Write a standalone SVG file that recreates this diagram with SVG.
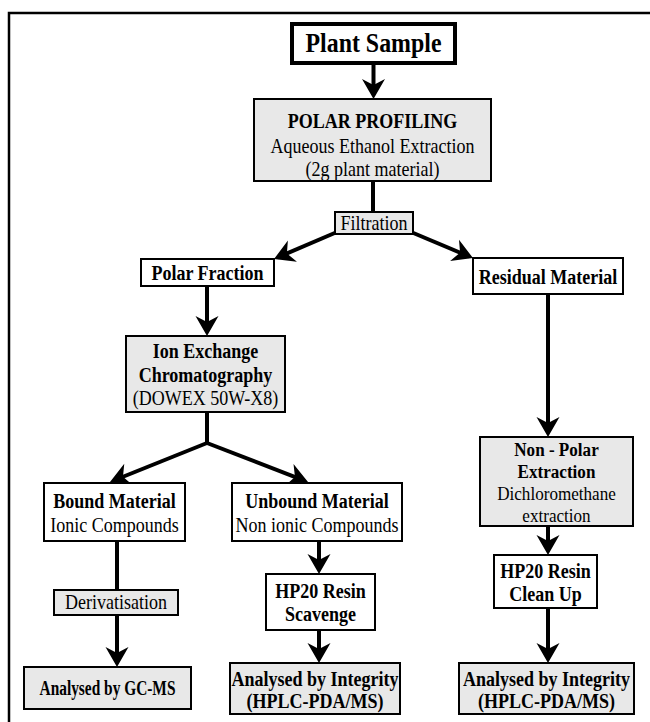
<svg xmlns="http://www.w3.org/2000/svg" width="650" height="722" viewBox="0 0 650 722">
<style>
text{font-family:"Liberation Serif","Times New Roman",serif;font-size:20px;fill:#000;text-anchor:middle;transform:scaleX(0.9);transform-box:fill-box;transform-origin:center}
.b{font-weight:bold}
.s{font-size:19px}
.w{fill:#fff;stroke:#000;stroke-width:2}
.g{fill:#e8e8e8;stroke:#000;stroke-width:2}
.c{fill:none;stroke:#000;stroke-width:4}
</style>
<defs>
<marker id="ah" markerUnits="userSpaceOnUse" markerWidth="30" markerHeight="30" viewBox="-20 -15 30 30" refX="0" refY="0" orient="auto">
<path d="M4,0 L-16,-11.5 L-10,0 L-16,11.5 Z" fill="#000"/>
</marker>
</defs>
<path d="M9,722 V13 H650" fill="none" stroke="#000" stroke-width="2.5"/>
<g id="connectors">
<path class="c" d="M373.5,63 V95" marker-end="url(#ah)"/>
<path class="c" d="M373,181 V212"/>
<path class="c" d="M337,232 L277.7,257.4" marker-end="url(#ah)"/>
<path class="c" d="M411,232 L469.3,256.5" marker-end="url(#ah)"/>
<path class="c" d="M207,286 V332" marker-end="url(#ah)"/>
<path class="c" d="M548,294 V433" marker-end="url(#ah)"/>
<path class="c" d="M207,412 V443"/>
<path class="c" d="M207,443 L113.7,480.5" marker-end="url(#ah)"/>
<path class="c" d="M207,443 L304.3,480.6" marker-end="url(#ah)"/>
<path class="c" d="M117,541 V590"/>
<path class="c" d="M117,615 V663" marker-end="url(#ah)"/>
<path class="c" d="M319,541 V570" marker-end="url(#ah)"/>
<path class="c" d="M319,630 V659" marker-end="url(#ah)"/>
<path class="c" d="M548,526 V551" marker-end="url(#ah)"/>
<path class="c" d="M548,608 V659" marker-end="url(#ah)"/>
</g>
<g id="plant">
<rect x="292" y="24" width="163" height="39" fill="#fff" stroke="#000" stroke-width="4"/>
<text class="b" x="373.5" y="52" style="font-size:27px;transform:scaleX(0.885)">Plant Sample</text>
</g>
<g id="polar">
<rect class="g" x="254" y="99" width="237" height="82"/>
<text class="b" x="372.5" y="128">POLAR PROFILING</text>
<text x="372.5" y="153">Aqueous Ethanol Extraction</text>
<text x="372.5" y="176">(2g plant material)</text>
</g>
<g id="filtration">
<rect class="g" x="335" y="212" width="78" height="22"/>
<text x="374" y="230">Filtration</text>
</g>
<g id="polarFraction">
<rect class="w" x="141" y="259" width="133" height="27"/>
<text class="b" x="207.5" y="280">Polar Fraction</text>
</g>
<g id="residual">
<rect class="w" x="473" y="258" width="150" height="36"/>
<text class="b" x="548" y="284">Residual Material</text>
</g>
<g id="ion">
<rect class="g" x="126" y="336" width="159" height="76"/>
<text class="b" x="205.5" y="358">Ion Exchange</text>
<text class="b" x="205.5" y="382">Chromatography</text>
<text x="205.5" y="405">(DOWEX 50W-X8)</text>
</g>
<g id="bound">
<rect class="w" x="44" y="483" width="141" height="58"/>
<text class="b" x="114.5" y="508">Bound Material</text>
<text x="114.5" y="532">Ionic Compounds</text>
</g>
<g id="unbound">
<rect class="w" x="232" y="483" width="170" height="58"/>
<text class="b" x="317" y="508">Unbound Material</text>
<text x="317" y="532">Non ionic Compounds</text>
</g>
<g id="derivatisation">
<rect class="g" x="54" y="590" width="124" height="25"/>
<text x="116" y="609">Derivatisation</text>
</g>
<g id="gcms">
<rect class="g" x="24" y="667" width="167" height="42"/>
<text class="b" x="107.5" y="695" style="transform:scaleX(0.77)">Analysed by GC-MS</text>
</g>
<g id="scavenge">
<rect class="w" x="266" y="574" width="109" height="56"/>
<text class="b" x="320.5" y="598">HP20 Resin</text>
<text class="b" x="320.5" y="621">Scavenge</text>
</g>
<g id="integrityMid">
<rect class="g" x="230" y="663" width="170" height="51"/>
<text class="b" x="315" y="686">Analysed by Integrity</text>
<text class="b" x="315" y="708">(HPLC-PDA/MS)</text>
</g>
<g id="nonpolar">
<rect class="g" x="480" y="437" width="153" height="89"/>
<text class="b s" x="556.5" y="456">Non - Polar</text>
<text class="b s" x="556.5" y="478">Extraction</text>
<text class="s" x="556.5" y="500">Dichloromethane</text>
<text class="s" x="556.5" y="522">extraction</text>
</g>
<g id="cleanup">
<rect class="w" x="494" y="555" width="103" height="53"/>
<text class="b" x="545.5" y="578">HP20 Resin</text>
<text class="b" x="545.5" y="601">Clean Up</text>
</g>
<g id="integrityRight">
<rect class="g" x="459" y="663" width="175" height="51"/>
<text class="b" x="546.5" y="686">Analysed by Integrity</text>
<text class="b" x="546.5" y="708">(HPLC-PDA/MS)</text>
</g>
</svg>
